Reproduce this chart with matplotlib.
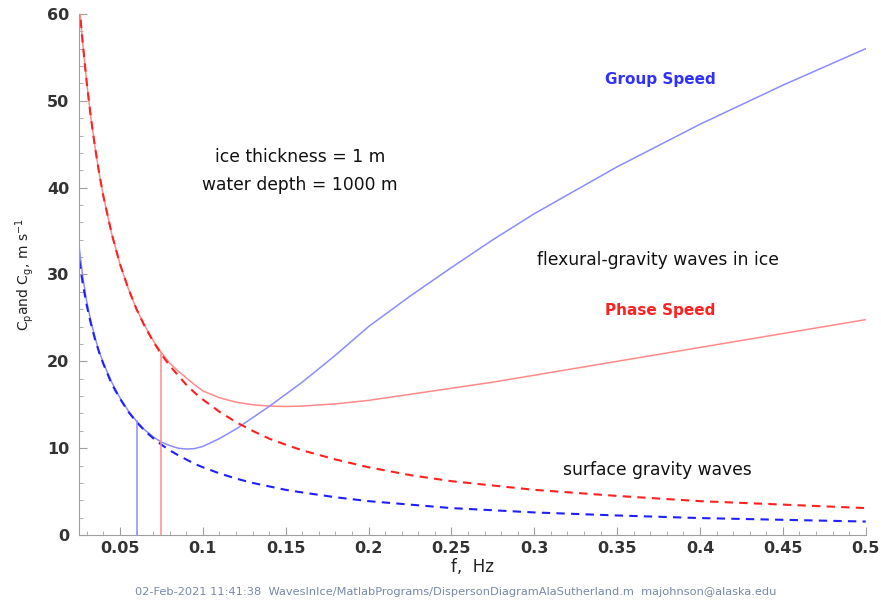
import matplotlib
matplotlib.use("Agg")
import matplotlib.pyplot as plt
from matplotlib.ticker import MultipleLocator

freq = [0.0255, 0.0275, 0.03, 0.0325, 0.035, 0.0375, 0.04, 0.045, 0.05, 0.055,
        0.06, 0.065, 0.07, 0.075, 0.08, 0.085, 0.09, 0.095, 0.1, 0.11,
        0.12, 0.13, 0.14, 0.15, 0.16, 0.18, 0.2, 0.225, 0.25, 0.275,
        0.3, 0.35, 0.4, 0.45, 0.5]

# surface gravity waves (dashed)
cp_surface = [61.0, 56.7, 52.0, 48.0, 44.6, 41.6, 39.0, 34.7, 31.2, 28.4,
              26.0, 24.0, 22.3, 20.8, 19.5, 18.4, 17.3, 16.4, 15.6, 14.2,
              13.0, 12.0, 11.1, 10.4, 9.75, 8.7, 7.8, 6.9, 6.2, 5.7,
              5.2, 4.5, 3.9, 3.5, 3.1]
cg_surface = [31.6, 29.0, 26.4, 24.3, 22.5, 21.0, 19.7, 17.4, 15.7, 14.2,
              13.0, 12.0, 11.15, 10.4, 9.75, 9.2, 8.7, 8.2, 7.8, 7.1,
              6.5, 6.0, 5.6, 5.2, 4.9, 4.35, 3.9, 3.5, 3.1, 2.85,
              2.6, 2.25, 1.95, 1.75, 1.55]

# flexural-gravity waves in ice (solid)
cp_ice = [61.0, 56.7, 52.0, 48.0, 44.6, 41.6, 39.0, 34.7, 31.2, 28.4,
          26.0, 24.1, 22.4, 21.0, 19.8, 18.9, 18.1, 17.3, 16.6, 15.8,
          15.3, 15.0, 14.85, 14.8, 14.85, 15.1, 15.5, 16.2, 16.9, 17.6,
          18.4, 20.0, 21.6, 23.2, 24.8]
cg_ice = [33.0, 29.8, 26.8, 24.6, 22.7, 21.1, 19.8, 17.6, 15.8, 14.3,
          13.1, 12.1, 11.3, 10.7, 10.3, 10.0, 9.9, 9.95, 10.2, 11.1,
          12.2, 13.5, 14.8, 16.2, 17.6, 20.7, 24.0, 27.5, 30.8, 34.0,
          37.0, 42.4, 47.3, 51.8, 56.0]

# vertical markers: (frequency, height)
cg_mark = (0.06, 13.1)
cp_mark = (0.075, 21.0)

xtick_vals = [0.05, 0.1, 0.15, 0.2, 0.25, 0.3, 0.35, 0.4, 0.45, 0.5]
xtick_text = ["0.05", "0.1", "0.15", "0.2", "0.25", "0.3", "0.35", "0.4", "0.45", "0.5"]

footer = ("02-Feb-2021 11:41:38  WavesInIce/MatlabPrograms/"
          "DispersonDiagramAlaSutherland.m  majohnson@alaska.edu")

fig = plt.figure(figsize=(8.81, 6.01), dpi=100)
ax = fig.add_axes([0.0897, 0.1098, 0.893, 0.867])

light_red = "#ff8a8a"
light_blue = "#8c8cff"

ax.plot(freq, cp_ice, color=light_red, lw=1.1)
ax.plot(freq, cg_ice, color=light_blue, lw=1.1)
ax.plot(freq, cp_surface, color="#ff2020", lw=1.5, ls=(0, (4, 3)))
ax.plot(freq, cg_surface, color="#2020ff", lw=1.5, ls=(0, (4, 3)))

ax.plot([cg_mark[0], cg_mark[0]], [0, cg_mark[1]], color=light_blue, lw=1.1)
ax.plot([cp_mark[0], cp_mark[0]], [0, cp_mark[1]], color=light_red, lw=1.1)

ax.set_xlim(0.0253, 0.5)
ax.set_ylim(0, 60)
ax.set_xticks(xtick_vals)
ax.set_xticklabels(xtick_text)
ax.xaxis.set_minor_locator(MultipleLocator(0.01))
ax.yaxis.set_major_locator(MultipleLocator(10))
ax.yaxis.set_minor_locator(MultipleLocator(2))

for s in ["top", "right"]:
    ax.spines[s].set_visible(False)
for s in ["left", "bottom"]:
    ax.spines[s].set_color("#a0a0a0")
ax.tick_params(which="both", direction="in", color="#a0a0a0")
ax.tick_params(which="major", length=6, labelsize=11.5, labelcolor="#333333")
ax.tick_params(axis="x", which="major", pad=4)
ax.tick_params(axis="y", which="major", pad=7)
ax.tick_params(which="minor", length=3)
for lbl in ax.get_xticklabels() + ax.get_yticklabels():
    lbl.set_fontweight("bold")

ax.set_xlabel("f,  Hz", fontsize=12, color="#222222", labelpad=2)
ax.set_ylabel(r"$\mathregular{C_p}$and $\mathregular{C_g}$, m $\mathregular{s^{-1}}$",
              fontsize=10, color="#222222")
ax.yaxis.set_label_coords(-0.055, 0.5)

txt = dict(ha="center", va="center", fontsize=12.3, color="#111111")
ax.text(0.1586, 43.5, "ice thickness = 1 m", **txt)
ax.text(0.1586, 40.3, "water depth = 1000 m", **txt)
ax.text(0.3745, 31.7, "flexural-gravity waves in ice", **txt)
ax.text(0.3745, 7.5, "surface gravity waves", **txt)
ax.text(0.376, 52.4, "Group Speed", ha="center", va="center", fontsize=11,
        color="#3030ff", fontweight="bold")
ax.text(0.376, 25.8, "Phase Speed", ha="center", va="center", fontsize=11,
        color="#ff2020", fontweight="bold")

fig.text(0.517, 0.015, footer, ha="center", va="center", fontsize=8.2, color="#7888a8")

fig.savefig("out.png", dpi=100)
